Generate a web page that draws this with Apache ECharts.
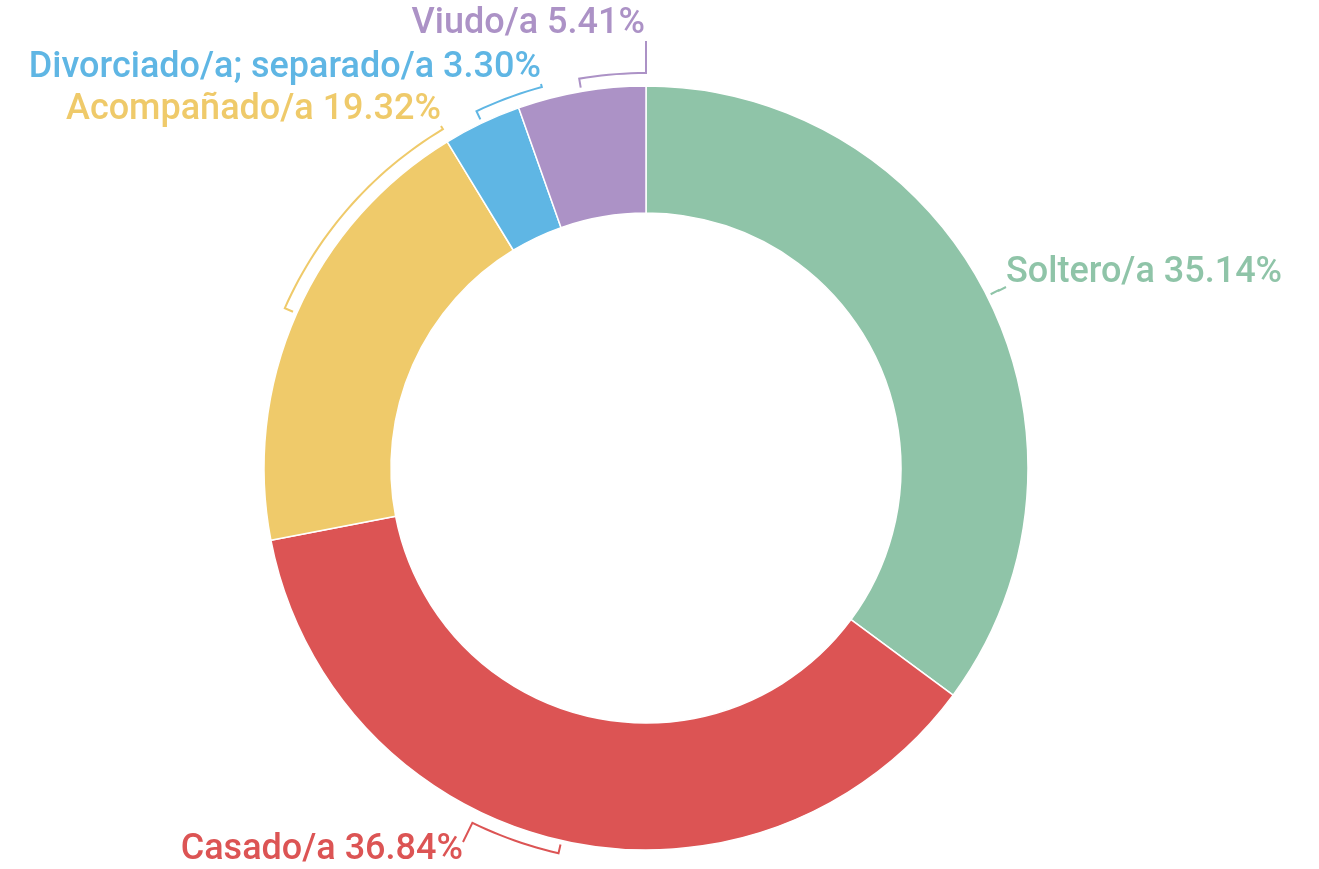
<!DOCTYPE html>
<html>
<head>
<meta charset="utf-8">
<script src="https://cdn.jsdelivr.net/npm/echarts@6/dist/echarts.min.js"></script>
<style>
  html, body { margin: 0; padding: 0; background: #fff; }
  #chart { width: 1319px; height: 869px; }
</style>
</head>
<body>
<div id="chart"></div>
<script>
var categories = ['Soltero/a', 'Casado/a', 'Acompañado/a', 'Divorciado/a; separado/a', 'Viudo/a'];
var values = [35.14, 36.84, 19.32, 3.30, 5.41];
var colors = ['#8fc4a8', '#dc5454', '#efca6a', '#5fb6e4', '#ac92c6'];

// where each label sits: [x, y, align] and the point where its line meets the text
var labelPos = [
  { x: 1006, y: 273, align: 'left', end: [1006, 287] },
  { x: 463, y: 850, align: 'right', end: [463, 842] },
  { x: 441, y: 110, align: 'right', end: [441, 126] },
  { x: 541, y: 68, align: 'right', end: [541, 84] },
  { x: 645, y: 24, align: 'right', end: [646, 41] }
];

var myChart = echarts.init(document.getElementById('chart'));

function bracketLine(idx) {
  var layout = myChart.getModel().getSeriesByIndex(0).getData().getItemLayout(idx);
  var cx = layout.cx, cy = layout.cy, r = layout.r;
  var mid = (layout.startAngle + layout.endAngle) / 2;
  var end = labelPos[idx].end;
  var target = Math.atan2(end[1] - cy, end[0] - cx);
  // keep target on same turn as mid
  while (target - mid > Math.PI) target -= 2 * Math.PI;
  while (mid - target > Math.PI) target += 2 * Math.PI;
  var r1 = r + 4, r2 = r + 13;
  var pts = [[cx + r1 * Math.cos(mid), cy + r1 * Math.sin(mid)]];
  var steps = Math.max(1, Math.ceil(Math.abs(target - mid) / 0.02));
  for (var i = 0; i <= steps; i++) {
    var a = mid + (target - mid) * i / steps;
    pts.push([cx + r2 * Math.cos(a), cy + r2 * Math.sin(a)]);
  }
  pts.push(end);
  return pts;
}

var pieData = categories.map(function (name, i) {
  return {
    name: name,
    value: values[i],
    itemStyle: { color: colors[i] },
    label: { color: colors[i] },
    labelLine: { lineStyle: { color: colors[i] } }
  };
});

var option = {
  backgroundColor: '#fff',
  animation: false,
  series: [{
    type: 'pie',
    center: [646, 468],
    radius: [255, 382],
    startAngle: 90,
    clockwise: true,
    avoidLabelOverlap: false,
    itemStyle: { borderColor: '#fff', borderWidth: 1.5 },
    label: {
      show: true,
      position: 'outside',
      fontFamily: 'Roboto',
      fontSize: 36,
      fontWeight: 500,
      formatter: function (p) {
        return p.name + ' ' + p.value.toFixed(2) + '%';
      }
    },
    labelLine: { show: true, length: 10, length2: 10, lineStyle: { width: 2 } },
    labelLayout: function (params) {
      var lp = labelPos[params.dataIndex];
      return {
        x: lp.x,
        y: lp.y,
        align: lp.align,
        verticalAlign: 'middle',
        labelLinePoints: bracketLine(params.dataIndex)
      };
    },
    data: pieData
  }]
};
myChart.setOption(option);
</script>
</body>
</html>
